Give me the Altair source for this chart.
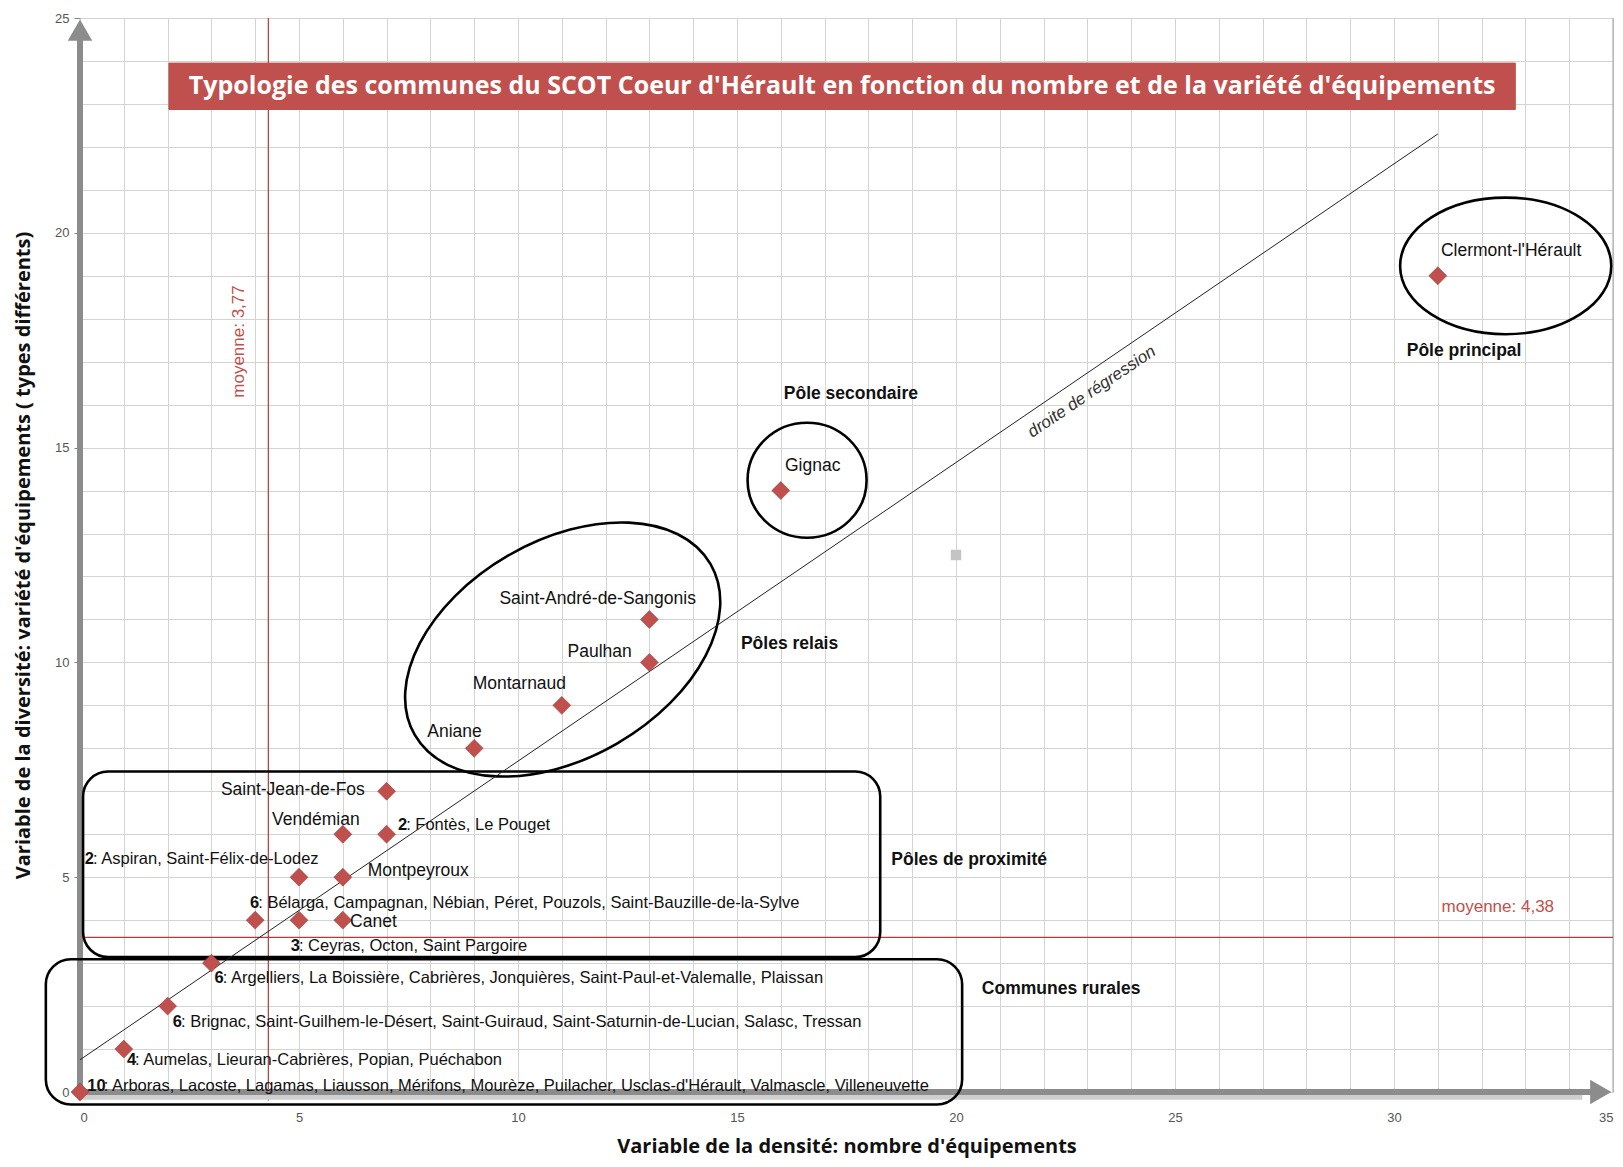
import altair as alt
import pandas as pd

# ---------------- data ----------------
pt_x = [31, 16, 13, 13, 11, 9, 7, 6, 7, 5, 6, 4, 5, 6, 3, 2, 1, 0]
pt_y = [19, 14, 11, 10, 9, 8, 7, 6, 6, 5, 5, 4, 4, 4, 3, 2, 1, 0]
pt_count = ["", "", "", "", "", "", "", "", "2", "2", "", "6", "3", "", "6", "6", "4", "10"]
pt_names = [
    "Clermont-l'Hérault", "Gignac", "Saint-André-de-Sangonis", "Paulhan",
    "Montarnaud", "Aniane", "Saint-Jean-de-Fos", "Vendémian",
    "Fontès, Le Pouget", "Aspiran, Saint-Félix-de-Lodez", "Montpeyroux",
    "Bélarga, Campagnan, Nébian, Péret, Pouzols, Saint-Bauzille-de-la-Sylve",
    "Ceyras, Octon, Saint Pargoire", "Canet",
    "Argelliers, La Boissière, Cabrières, Jonquières, Saint-Paul-et-Valemalle, Plaissan",
    "Brignac, Saint-Guilhem-le-Désert, Saint-Guiraud, Saint-Saturnin-de-Lucian, Salasc, Tressan",
    "Aumelas, Lieuran-Cabrières, Popian, Puéchabon",
    "Arboras, Lacoste, Lagamas, Liausson, Mérifons, Mourèze, Puilacher, Usclas-d'Hérault, Valmascle, Villeneuvette",
]

# regression line (two ends)
reg_x = [0, 31]
reg_y = [0.75, 22.3]

# mean lines (drawn position) and their labels
mean_x_line = [4.3]
mean_y_line = [3.6]
mean_x_label = "moyenne: 3,77"
mean_y_label = "moyenne: 4,38"

# stray grey marker
stray_x = [20]
stray_y = [12.5]

# group labels
groups = ["Pôle principal", "Pôle secondaire", "Pôles relais", "Pôles de proximité", "Communes rurales"]
group_x = [31.6, 17.6, 16.2, 20.3, 22.4]
group_y = [17.25, 16.25, 10.42, 5.41, 2.39]

# group outlines
box_x0 = [0.07, -0.78]
box_x1 = [18.27, 20.14]
box_y0 = [3.14, -0.29]
box_y1 = [7.46, 3.09]

ell_x = [32.55, 16.6, 11.02]
ell_y = [19.23, 14.24, 10.3]

title = "Typologie des communes du SCOT Coeur d'Hérault en fonction du nombre et de la variété d'équipements"
xtitle = "Variable de la densité: nombre d'équipements"
ytitle = "Variable de la diversité: variété d'équipements ( types différents)"
x_ticks = list(range(0, 36))
y_ticks = list(range(0, 26))

# ---------------- styling ----------------
FONT = "Liberation Sans Narrow, Arial Narrow, Liberation Sans, sans-serif"
TFONT = "Open Sans, Liberation Sans, sans-serif"
RED = "#c0504d"
LINE_RED = "#b5393a"
GREY = "#8c8c8c"
K = 1.035  # pixel scale factor

xs = alt.Scale(domain=[0, 35], nice=False, zero=False)
ys = alt.Scale(domain=[0, 25], nice=False, zero=False)

tick_cond = {"condition": {"test": "datum.value % 5 === 0", "value": 1}, "value": 0}

xaxis = alt.Axis(
    values=x_ticks, labelExpr="datum.value % 5 === 0 ? datum.label : ''",
    grid=True, gridColor="#d4d4d4", gridWidth=1, domain=False,
    ticks=False, labelFontSize=13, labelColor="#555555", labelFont=FONT,
    labelPadding=19, title=xtitle, titleFont=TFONT, titleFontSize=20,
    titleFontWeight="bold", titleColor="#111111", titleY=54, titleBaseline="middle",
)
yaxis = alt.Axis(
    values=y_ticks, labelExpr="datum.value % 5 === 0 ? datum.label : ''",
    grid=True, gridColor="#d4d4d4", gridWidth=1, domain=False,
    ticks=True, tickSize=6, tickColor="#808080", tickOpacity=tick_cond,
    labelFontSize=13, labelColor="#555555", labelFont=FONT, labelPadding=5,
    title=ytitle, titleFont=TFONT, titleFontSize=20, titleFontWeight="bold",
    titleColor="#111111", titleX=-57, titleAngle=270, titleBaseline="middle",
)


def X(f):
    return alt.X(f, type="quantitative", scale=xs, axis=xaxis)


def Y(f):
    return alt.Y(f, type="quantitative", scale=ys, axis=yaxis)


layers = []

grid_df = pd.DataFrame({"x": [0, 35], "y": [0, 25]})
layers.append(alt.Chart(grid_df).mark_point(opacity=0).encode(x=X("x"), y=Y("y")))

# right edge line of the grid
layers.append(alt.Chart(pd.DataFrame({"x": [35], "y0": [0], "y1": [25]})).mark_rule(
    color="#a0a0a0", strokeWidth=1).encode(x=X("x"), y=Y("y0"), y2="y1"))

# mean lines
layers.append(alt.Chart(pd.DataFrame({"x": mean_x_line, "y0": [-0.2], "y1": [25]})).mark_rule(
    color=LINE_RED, strokeWidth=1.2).encode(x=X("x"), y=Y("y0"), y2="y1"))
layers.append(alt.Chart(pd.DataFrame({"y": mean_y_line, "x0": [0], "x1": [35]})).mark_rule(
    color=LINE_RED, strokeWidth=1.2).encode(y=Y("y"), x=X("x0"), x2="x1"))

# axis arrows (with a soft shadow under the x arrow)
layers.append(alt.Chart(pd.DataFrame({"y": [-0.12], "x0": [0], "x1": [34.3]})).mark_rule(
    color="#cfcfcf", strokeWidth=5).encode(y=Y("y"), x=X("x0"), x2="x1"))
layers.append(alt.Chart(pd.DataFrame({"x": [0], "y0": [0], "y1": [24.5]})).mark_rule(
    color=GREY, strokeWidth=6).encode(x=X("x"), y=Y("y0"), y2="y1"))
layers.append(alt.Chart(pd.DataFrame({"y": [0], "x0": [0], "x1": [34.5]})).mark_rule(
    color=GREY, strokeWidth=6).encode(y=Y("y"), x=X("x0"), x2="x1"))
layers.append(alt.Chart(pd.DataFrame({"x": [0], "y": [24.72]})).mark_point(
    shape="triangle-up", filled=True, color=GREY, size=600, opacity=1).encode(x=X("x"), y=Y("y")))
layers.append(alt.Chart(pd.DataFrame({"x": [34.72], "y": [0]})).mark_point(
    shape="triangle-right", filled=True, color=GREY, size=600, opacity=1).encode(x=X("x"), y=Y("y")))

# rounded boxes
box_df = pd.DataFrame({"x0": box_x0, "x1": box_x1, "y0": box_y0, "y1": box_y1})
layers.append(alt.Chart(box_df).mark_rect(
    fill="transparent", stroke="black", strokeWidth=2.6, cornerRadius=25).encode(
    x=X("x0"), x2="x1", y=Y("y0"), y2="y1"))

# ellipses (custom symbol paths)
ell_specs = [
    (0, "M -1 0 A 1 0.647 0 1 0 1 0 A 1 0.647 0 1 0 -1 0 Z", (204 * K) ** 2, 0),
    (1, "M -1 0 A 1 0.965 0 1 0 1 0 A 1 0.965 0 1 0 -1 0 Z", (115 * K) ** 2, 0),
    (2, "M -1 0 A 1 0.636 0 1 0 1 0 A 1 0.636 0 1 0 -1 0 Z", (330 * K) ** 2, 330),
]
for i, path, size, ang in ell_specs:
    d = pd.DataFrame({"x": [ell_x[i]], "y": [ell_y[i]]})
    layers.append(alt.Chart(d).mark_point(
        shape=path, size=size, angle=ang, filled=False, stroke="black",
        strokeWidth=2.6, opacity=1).encode(x=X("x"), y=Y("y")))

# regression line
layers.append(alt.Chart(pd.DataFrame({"x": reg_x, "y": reg_y})).mark_line(
    color="#222222", strokeWidth=1).encode(x=X("x"), y=Y("y")))

# stray grey marker
layers.append(alt.Chart(pd.DataFrame({"x": stray_x, "y": stray_y})).mark_point(
    shape="square", filled=True, color="#c4c4c4", size=110, opacity=1).encode(x=X("x"), y=Y("y")))

# points
df = pd.DataFrame({"x": pt_x, "y": pt_y, "count": pt_count, "name": pt_names,
                   "idx": list(range(len(pt_x)))})
layers.append(alt.Chart(df).mark_point(
    shape="diamond", filled=True, fill=RED, stroke="#9e3a37", strokeWidth=0.6,
    size=320, opacity=1).encode(x=X("x"), y=Y("y")))

# point labels: (dx, dy, align)
offsets = {
    0: (3, -24, "left"), 1: (4, -24, "left"), 2: (-50, -20, "center"),
    3: (-17, -10, "right"), 4: (-41, -21, "center"), 5: (-19, -16, "center"),
    6: (-21, -1, "right"), 7: (-26, -14, "center"), 8: (11, -9, "left"),
    9: (-207, -18, "left"), 10: (24, -6, "left"), 11: (-5, -17, "left"),
    12: (-8, 25, "left"), 13: (7, 2, "left"), 14: (3, 14, "left"),
    15: (5, 15, "left"), 16: (3, 11, "left"), 17: (7, -6, "left"),
}
DIGIT_W = 8.2
for i, (dx, dy, al) in offsets.items():
    dx, dy = dx * K, dy * K
    base = alt.Chart(df).transform_filter(alt.datum.idx == i)
    cnt = pt_count[i]
    if cnt:
        layers.append(base.mark_text(
            align="left", baseline="middle", dx=dx, dy=dy, font=FONT, fontSize=16.5,
            fontWeight="bold", color="#111111").encode(x=X("x"), y=Y("y"), text="count:N"))
        layers.append(base.transform_calculate(lbl="': ' + datum.name").mark_text(
            align="left", baseline="middle", dx=dx + DIGIT_W * len(cnt), dy=dy, font=FONT,
            fontSize=16.5, color="#111111").encode(x=X("x"), y=Y("y"), text="lbl:N"))
    else:
        layers.append(base.mark_text(
            align=al, baseline="middle", dx=dx, dy=dy, font=FONT, fontSize=17.5,
            color="#111111").encode(x=X("x"), y=Y("y"), text="name:N"))

# group labels
gdf = pd.DataFrame({"x": group_x, "y": group_y, "t": groups})
layers.append(alt.Chart(gdf).mark_text(
    align="center", baseline="middle", font=FONT, fontSize=17.5, fontWeight="bold",
    color="#111111").encode(x=X("x"), y=Y("y"), text="t:N"))

# regression label
layers.append(alt.Chart(pd.DataFrame({"x": [23.1], "y": [16.3], "t": ["droite de régression"]})).mark_text(
    align="center", baseline="middle", font=FONT, fontSize=17, fontStyle="italic",
    angle=326, color="#333333").encode(x=X("x"), y=Y("y"), text="t:N"))

# mean labels
layers.append(alt.Chart(pd.DataFrame({"x": [3.64], "y": [17.47], "t": [mean_x_label]})).mark_text(
    align="center", baseline="middle", font=FONT, fontSize=17, angle=270,
    color="#c0504d").encode(x=X("x"), y=Y("y"), text="t:N"))
layers.append(alt.Chart(pd.DataFrame({"x": [32.37], "y": [4.3], "t": [mean_y_label]})).mark_text(
    align="center", baseline="middle", font=FONT, fontSize=17,
    color="#c0504d").encode(x=X("x"), y=Y("y"), text="t:N"))

# title box
layers.append(alt.Chart(pd.DataFrame({"x0": [2.03], "x1": [32.77], "y0": [22.87], "y1": [23.95]})).mark_rect(
    fill=RED, stroke=RED).encode(x=X("x0"), x2="x1", y=Y("y0"), y2="y1"))
layers.append(alt.Chart(pd.DataFrame({"x": [17.4], "y": [23.41], "t": [title]})).mark_text(
    align="center", baseline="middle", font=TFONT, fontSize=25, fontWeight="bold",
    color="white").encode(x=X("x"), y=Y("y"), text="t:N"))

chart = alt.layer(*layers).properties(
    width=1533, height=1074,
    autosize=alt.AutoSizeParams(type="none"),
    padding={"left": 72, "top": 10, "right": 2, "bottom": 67},
).configure_view(strokeWidth=0).configure(background="white")

chart.save("out.html", embed_options={"renderer": "svg", "actions": False})
